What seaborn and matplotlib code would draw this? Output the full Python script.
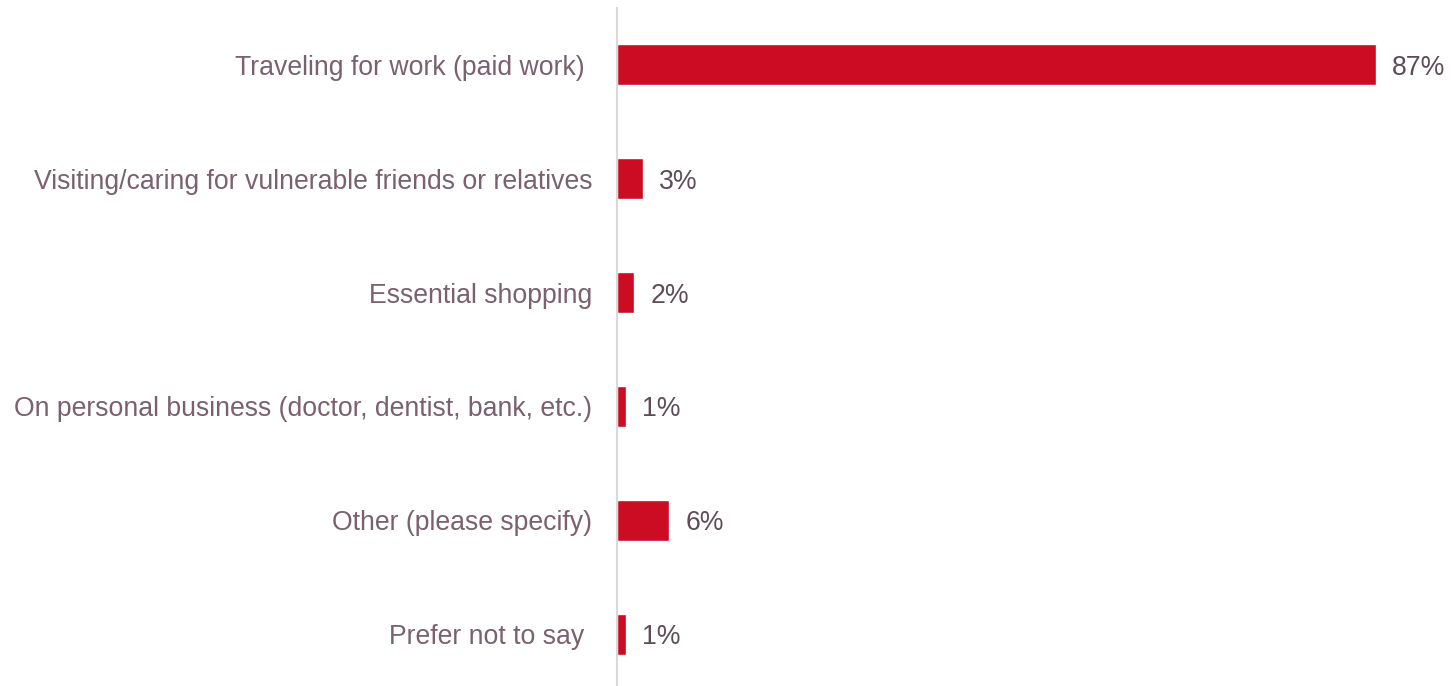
import matplotlib
matplotlib.use("Agg")
import matplotlib.pyplot as plt
import seaborn as sns
import pandas as pd

categories = [
    "Traveling for work (paid work) ",
    "Visiting/caring for vulnerable friends or relatives",
    "Essential shopping",
    "On personal business (doctor, dentist, bank, etc.)",
    "Other (please specify)",
    "Prefer not to say ",
]
values = [87, 3, 2, 1, 6, 1]

bar_color = "#CC0C22"
label_color = "#7B6170"
value_color = "#5E4D58"

sns.set_theme(style="white")
plt.rcParams["font.family"] = ["Liberation Sans", "DejaVu Sans"]

df = pd.DataFrame({"reason": categories, "share": values})

fig = plt.figure(figsize=(14.53, 6.86), dpi=100)
W, H = 1453, 686
left_px, right_px, top_px, bottom_px = 617, 1446, 8, 686
ax = fig.add_axes([left_px / W, 1 - bottom_px / H,
                   (right_px - left_px) / W, (bottom_px - top_px) / H])

sns.barplot(data=df, x="share", y="reason", orient="h", color=bar_color,
            width=0.36, saturation=1, ax=ax)

ax.set_xlim(0, (right_px - left_px) / 8.724)
ax.set_ylim(5.456, -0.5)

for c in ax.containers:
    texts = ax.bar_label(c, labels=[f"{v}%" for v in values], padding=11.5,
                         fontsize=19.2, color=value_color)
    for t in texts:
        t.set_va("center_baseline")

ax.set_xlabel("")
ax.set_ylabel("")
ax.set_xticks([])
ax.tick_params(axis="y", length=0, pad=18, labelsize=19.2, labelcolor=label_color)
for t in ax.get_yticklabels():
    t.set_va("center_baseline")

for s in ["top", "right", "bottom"]:
    ax.spines[s].set_visible(False)
ax.spines["left"].set_color("#D9D9D9")
ax.spines["left"].set_linewidth(1.5)

fig.savefig("out.png", dpi=100, facecolor="white")
